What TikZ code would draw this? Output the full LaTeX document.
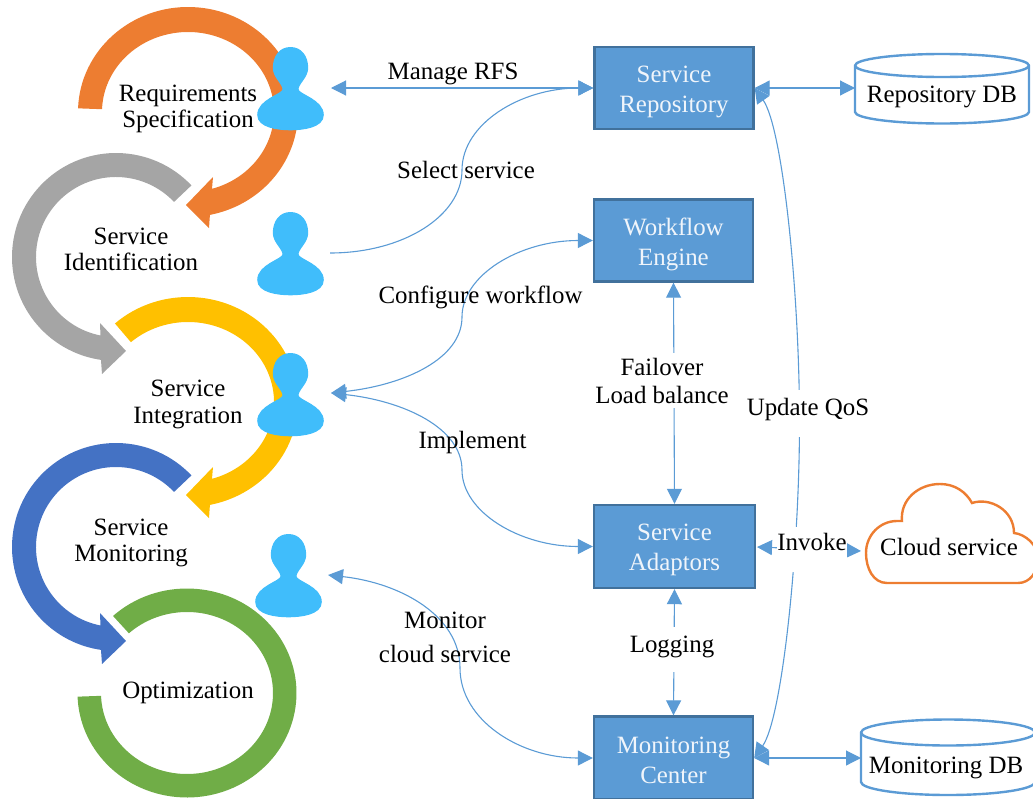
\documentclass[tikz,border=0pt]{standalone}
\usepackage{fontspec}
\setmainfont{Liberation Serif}
\usetikzlibrary{arrows.meta}
\definecolor{cOrange}{HTML}{ED7D31}
\definecolor{cGray}{HTML}{A5A5A5}
\definecolor{cYellow}{HTML}{FFC000}
\definecolor{cBlue}{HTML}{4472C4}
\definecolor{cGreen}{HTML}{70AD47}
\definecolor{cLine}{HTML}{5B9BD5}
\definecolor{cPerson}{HTML}{40BDFB}
\definecolor{cBorder}{HTML}{41719C}
\definecolor{cBoxText}{HTML}{F0F5FB}
\newcommand{\swoopRight}[4]{% colour, cx, cy, start angle
  \fill[#1,shift={(#2,#3)}] (#4:110 and 105) arc[start angle=#4,end angle=-78.5,x radius=110,y radius=105]
    -- (21,-116) -- (-2,-93) -- (25,-65) -- (-73.8:86 and 80)
    arc[start angle=-73.8,end angle=#4,x radius=86,y radius=80] -- cycle;}
\newcommand{\swoopLeft}[3]{% colour, cx, cy
  \fill[#1,shift={(#2,#3)}] (43.5:104) arc[start angle=43.5,end angle=261.7,radius=104]
    -- (-14,-117) -- (10,-94) -- (-16,-66) -- (258.8:80)
    arc[start angle=258.8,end angle=43.5,radius=80] -- cycle;}
\tikzset{
  every node/.style={font=\fontsize{24.9}{28}\selectfont,text=black},
  personicon/.pic={\fill[cPerson] (0,0)
    .. controls (11,0) and (17.7,-9) .. (17.7,-21)
    .. controls (17.7,-30) and (9,-36) .. (8,-42)
    .. controls (7.5,-47) and (33.3,-52) .. (33.3,-68)
    .. controls (33.3,-81) and (12,-83.3) .. (0,-83.3)
    .. controls (-12,-83.3) and (-33.3,-81) .. (-33.3,-68)
    .. controls (-33.3,-52) and (-7.5,-47) .. (-8,-42)
    .. controls (-9,-36) and (-17.7,-30) .. (-17.7,-21)
    .. controls (-17.7,-9) and (-11,0) .. (0,0) -- cycle;},
  dbicon/.pic={\draw[cLine,line width=2.4] (-87,0)
    arc[start angle=180,end angle=0,x radius=87,y radius=\dbry]
    -- (87,-\dbh) arc[start angle=0,end angle=-180,x radius=87,y radius=\dbry] -- cycle;
    \draw[cLine,line width=2.4] (-87,0) arc[start angle=180,end angle=360,x radius=87,y radius=\dbry];},
  boxnode/.style={rectangle,draw=cBorder,fill=cLine,line width=2.4,minimum width=159,minimum height=82,
    inner sep=0,align=center,font=\fontsize{24.9}{30}\selectfont,text=cBoxText},
  conn/.style={cLine,line width=1.1},
  both/.style={conn,{Triangle[length=15,width=15]}-{Triangle[length=15,width=15]}},
  endtip/.style={conn,-{Triangle[length=15,width=15]}},
  lbl/.style={anchor=base,inner sep=0,align=center},
  lblbg/.style={anchor=base,fill=white,align=center},
}
\begin{document}
\begin{tikzpicture}[x=1pt,y=1pt]
\useasboundingbox (0,0) rectangle (1033,-798);
% cycle of arrows
\swoopRight{cOrange}{188}{-112}{178}
\swoopLeft{cGray}{116}{-257}
\swoopRight{cYellow}{188}{-402}{131.6}
\swoopLeft{cBlue}{116}{-547}
\fill[cGreen,shift={(187,-693)}] (132.5:109.5 and 104.5)
  arc[start angle=132.5,end angle=-178,x radius=109.5,y radius=104.5]
  -- (-178:86 and 81) arc[start angle=-178,end angle=132.5,x radius=86,y radius=81] -- cycle;
% people
\pic (personA) at (290.5,-47) {personicon};
\pic (personB) at (290.5,-212) {personicon};
\pic (personC) at (290.5,-353) {personicon};
\pic (personD) at (288.5,-534) {personicon};
% phase labels
\node[lbl] (tReq) at (188,-127) {Requirements\\[-2pt]Specification};
\node[lbl] (tIdent) at (131,-270) {Service\\[-2pt]Identification};
\node[lbl] (tInteg) at (188,-423) {Service\\[-1pt]Integration};
\node[lbl] (tMon) at (131,-561) {Service\\[-2pt]Monitoring};
\node[lbl] (tOpt) at (188,-698) {Optimization};
% service boxes
\node[boxnode] (repo) at (674,-88) {\rule{0pt}{24pt}Service\\Repository};
\node[boxnode] (engine) at (673.5,-240.5) {\rule{0pt}{25pt}Workflow\\Engine};
\node[boxnode,minimum width=161,minimum height=83] (adaptors) at (674.5,-546.5) {\rule{0pt}{24pt}Service\\Adaptors};
\node[boxnode,minimum height=83] (center) at (673.5,-758) {\rule{0pt}{22pt}Monitoring\\Center};
% stores and cloud
\def\dbry{11.5}\def\dbh{46.5}
\pic (repodbshape) at (942,-65.5) {dbicon};
\def\dbry{13}\def\dbh{49.5}
\pic (mondbshape) at (948,-732.5) {dbicon};
\draw[cOrange,line width=2.4] (887,-583)
  .. controls (873,-583) and (866,-568) .. (866,-553)
  .. controls (866,-535) and (880,-521) .. (897,-521) -- (902,-521)
  .. controls (900,-500) and (918,-484) .. (940,-484)
  .. controls (955,-484) and (966,-492) .. (972,-503)
  .. controls (990,-497) and (1014,-510) .. (1014,-533)
  .. controls (1025,-534) and (1038,-545) .. (1038,-558)
  .. controls (1038,-572) and (1030,-583) .. (1018,-583) -- cycle;
\node[lbl] (tRepoDB) at (942,-102) {Repository DB};
\node[lbl] (tMonDB) at (946,-773) {Monitoring DB};
\node[lbl] (tCloud) at (949,-555) {Cloud service};
% connector ends
\coordinate (endA) at (331,-88);
\coordinate (endB) at (330,-253);
\coordinate (endC) at (331,-393);
\coordinate (endD) at (328,-575);
\coordinate (repodb) at (855,-88);
\coordinate (mondb) at (861,-758);
\coordinate (cloud) at (861,-551);
\coordinate (invokeL) at (757,-547);
\coordinate (midSel) at (462,-170);
\coordinate (midCfg) at (462,-317);
\coordinate (midImp) at (462,-470);
\coordinate (midMon) at (460,-668);
\coordinate (midQoS) at (799.5,-422);
% connectors
\draw[both] (endA) -- (repo.west);
\draw[endtip] (endB) .. controls +(73,0) and +(0,-46) .. (midSel) .. controls +(0,46) and +(-73,0) .. (repo.west);
\draw[both] (endC) .. controls +(73,8) and +(0,-42) .. (midCfg) .. controls +(0,42) and +(-73,0) .. (engine.west);
\draw[both] (endC) .. controls +(73,-8) and +(0,42) .. (midImp) .. controls +(0,-42) and +(-73,0) .. (adaptors.west);
\draw[both] (endD) .. controls +(73,-8) and +(0,52) .. (midMon) .. controls +(0,-52) and +(-73,0) .. (center.west);
\draw[both] (repo.east) .. controls +(28,-40) and +(0,130) .. (midQoS) .. controls +(0,-130) and +(28,40) .. (center.east);
\draw[both] (repo.east) -- (repodb);
\draw[both] (center.east) -- (mondb);
\draw[both] (engine.south) -- (adaptors.north);
\draw[both] (adaptors.south) -- (center.north);
\draw[both] (invokeL) -- (cloud);
% connector labels
\node[lbl] (tManage) at (453,-79) {Manage RFS};
\node[lbl] (tSelect) at (466,-178) {Select service};
\node[lbl] (tConfig) at (480.5,-303) {Configure workflow};
\node[lbl] (tImpl) at (472.5,-448) {Implement};
\node[lbl] (tMonitor) at (445,-662) {Monitor\\[6pt]cloud service};
\node[lblbg,inner xsep=6,inner ysep=5] (tFail) at (662,-403) {Failover\\Load balance};
\node[lblbg,inner xsep=6,inner ysep=8,text depth=14pt] (tQoS) at (808,-415) {Update QoS};
\node[lblbg,inner xsep=6,inner ysep=9,text depth=11pt] (tLog) at (672,-652) {Logging};
\node[lblbg,inner xsep=0,inner ysep=6,text depth=16pt] (tInvoke) at (812,-550) {Invoke};
\end{tikzpicture}
\end{document}
